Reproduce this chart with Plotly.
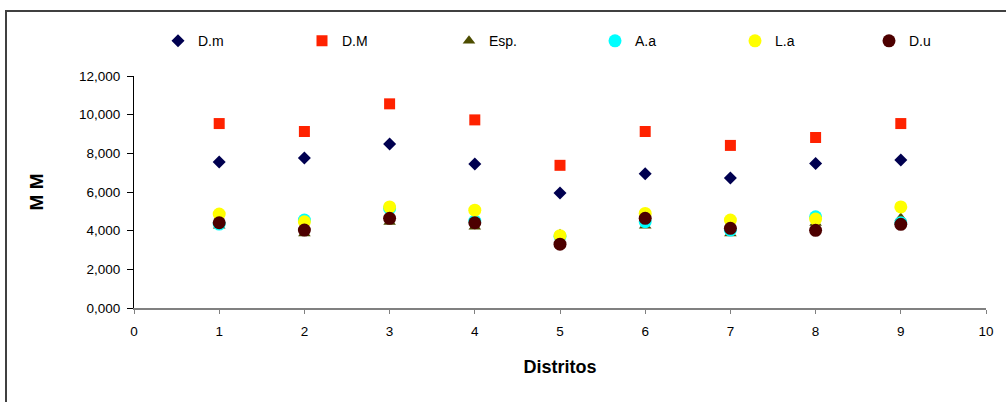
import plotly.graph_objects as go

distritos = [1, 2, 3, 4, 5, 6, 7, 8, 9]
d_m = [7550, 7760, 8480, 7450, 5950, 6950, 6730, 7470, 7650]
d_M = [9540, 9130, 10560, 9730, 7380, 9130, 8410, 8820, 9540]
esp = [4250, 3850, 4450, 4200, 3820, 4250, 3850, 4400, 4650]
a_a = [4340, 4550, 5150, 4500, 3700, 4460, 4030, 4720, 4410]
l_a = [4860, 4460, 5230, 5060, 3740, 4890, 4550, 4600, 5230]
d_u = [4410, 4030, 4640, 4410, 3300, 4640, 4120, 4020, 4330]

y_tickvals = [0, 2000, 4000, 6000, 8000, 10000, 12000]
y_ticktext = ["0,000", "2,000", "4,000", "6,000", "8,000", "10,000", "12,000"]
x_tickvals = [0, 1, 2, 3, 4, 5, 6, 7, 8, 9, 10]

series = [
    ("D.m", d_m, "diamond", "#000050", 10),
    ("D.M", d_M, "square", "#FF2200", 11),
    ("Esp.", esp, "triangle-up", "#4D4D00", 11),
    ("A.a", a_a, "circle", "#00FFFF", 13),
    ("L.a", l_a, "circle", "#FFFF00", 13),
    ("D.u", d_u, "circle", "#4D0000", 13),
]

# legend entry left edges (pixels) -- one legend per series
legend_px = [158, 302, 449, 595, 735, 869]
L, W = 134, 852

fig = go.Figure()
legend_layouts = {}
for i, (name, vals, sym, col, sz) in enumerate(series):
    lid = "legend" if i == 0 else f"legend{i + 1}"
    fig.add_trace(go.Scatter(
        x=distritos, y=vals, mode="markers", name=name, legend=lid,
        marker=dict(symbol=sym, color=col, size=sz, line=dict(width=0)),
    ))
    legend_layouts[lid] = dict(
        orientation="h", x=(legend_px[i] - L) / W, xanchor="left",
        y=1.15, yanchor="middle", itemwidth=30,
        font=dict(size=14), bgcolor="rgba(0,0,0,0)",
    )

font_family = "Liberation Sans, Arial, sans-serif"

fig.update_layout(
    width=1006, height=402,
    margin=dict(l=L, r=20, t=76, b=94),
    paper_bgcolor="white", plot_bgcolor="white",
    font=dict(family=font_family, size=13, color="black"),
    showlegend=True,
    xaxis=dict(
        range=[0, 10], tickvals=x_tickvals, showgrid=False, zeroline=False,
        showline=True, linecolor="#808080", linewidth=2,
        ticks="outside", ticklen=4, tickcolor="#808080",
        tickfont=dict(size=13.5), ticklabelstandoff=6, fixedrange=True,
        title=dict(text="<b>Distritos</b>", font=dict(size=18), standoff=22),
    ),
    yaxis=dict(
        range=[0, 12000], tickvals=y_tickvals, ticktext=y_ticktext,
        showgrid=False, zeroline=False,
        showline=True, linecolor="#000000", linewidth=1,
        ticks="outside", ticklen=6, tickcolor="#000000",
        tickfont=dict(size=13.5), ticklabelstandoff=4, fixedrange=True,
        title=dict(text="<b>M M</b>", font=dict(size=19), standoff=30),
    ),
    shapes=[dict(
        type="rect", xref="paper", yref="paper",
        x0=(6 - L) / W, x1=(1012 - L) / W,
        y0=(308 - 410) / 232, y1=(308 - 11) / 232,
        line=dict(color="#404040", width=2), fillcolor="rgba(0,0,0,0)",
        layer="below",
    )],
    **legend_layouts,
)

fig.write_html("out.html")
